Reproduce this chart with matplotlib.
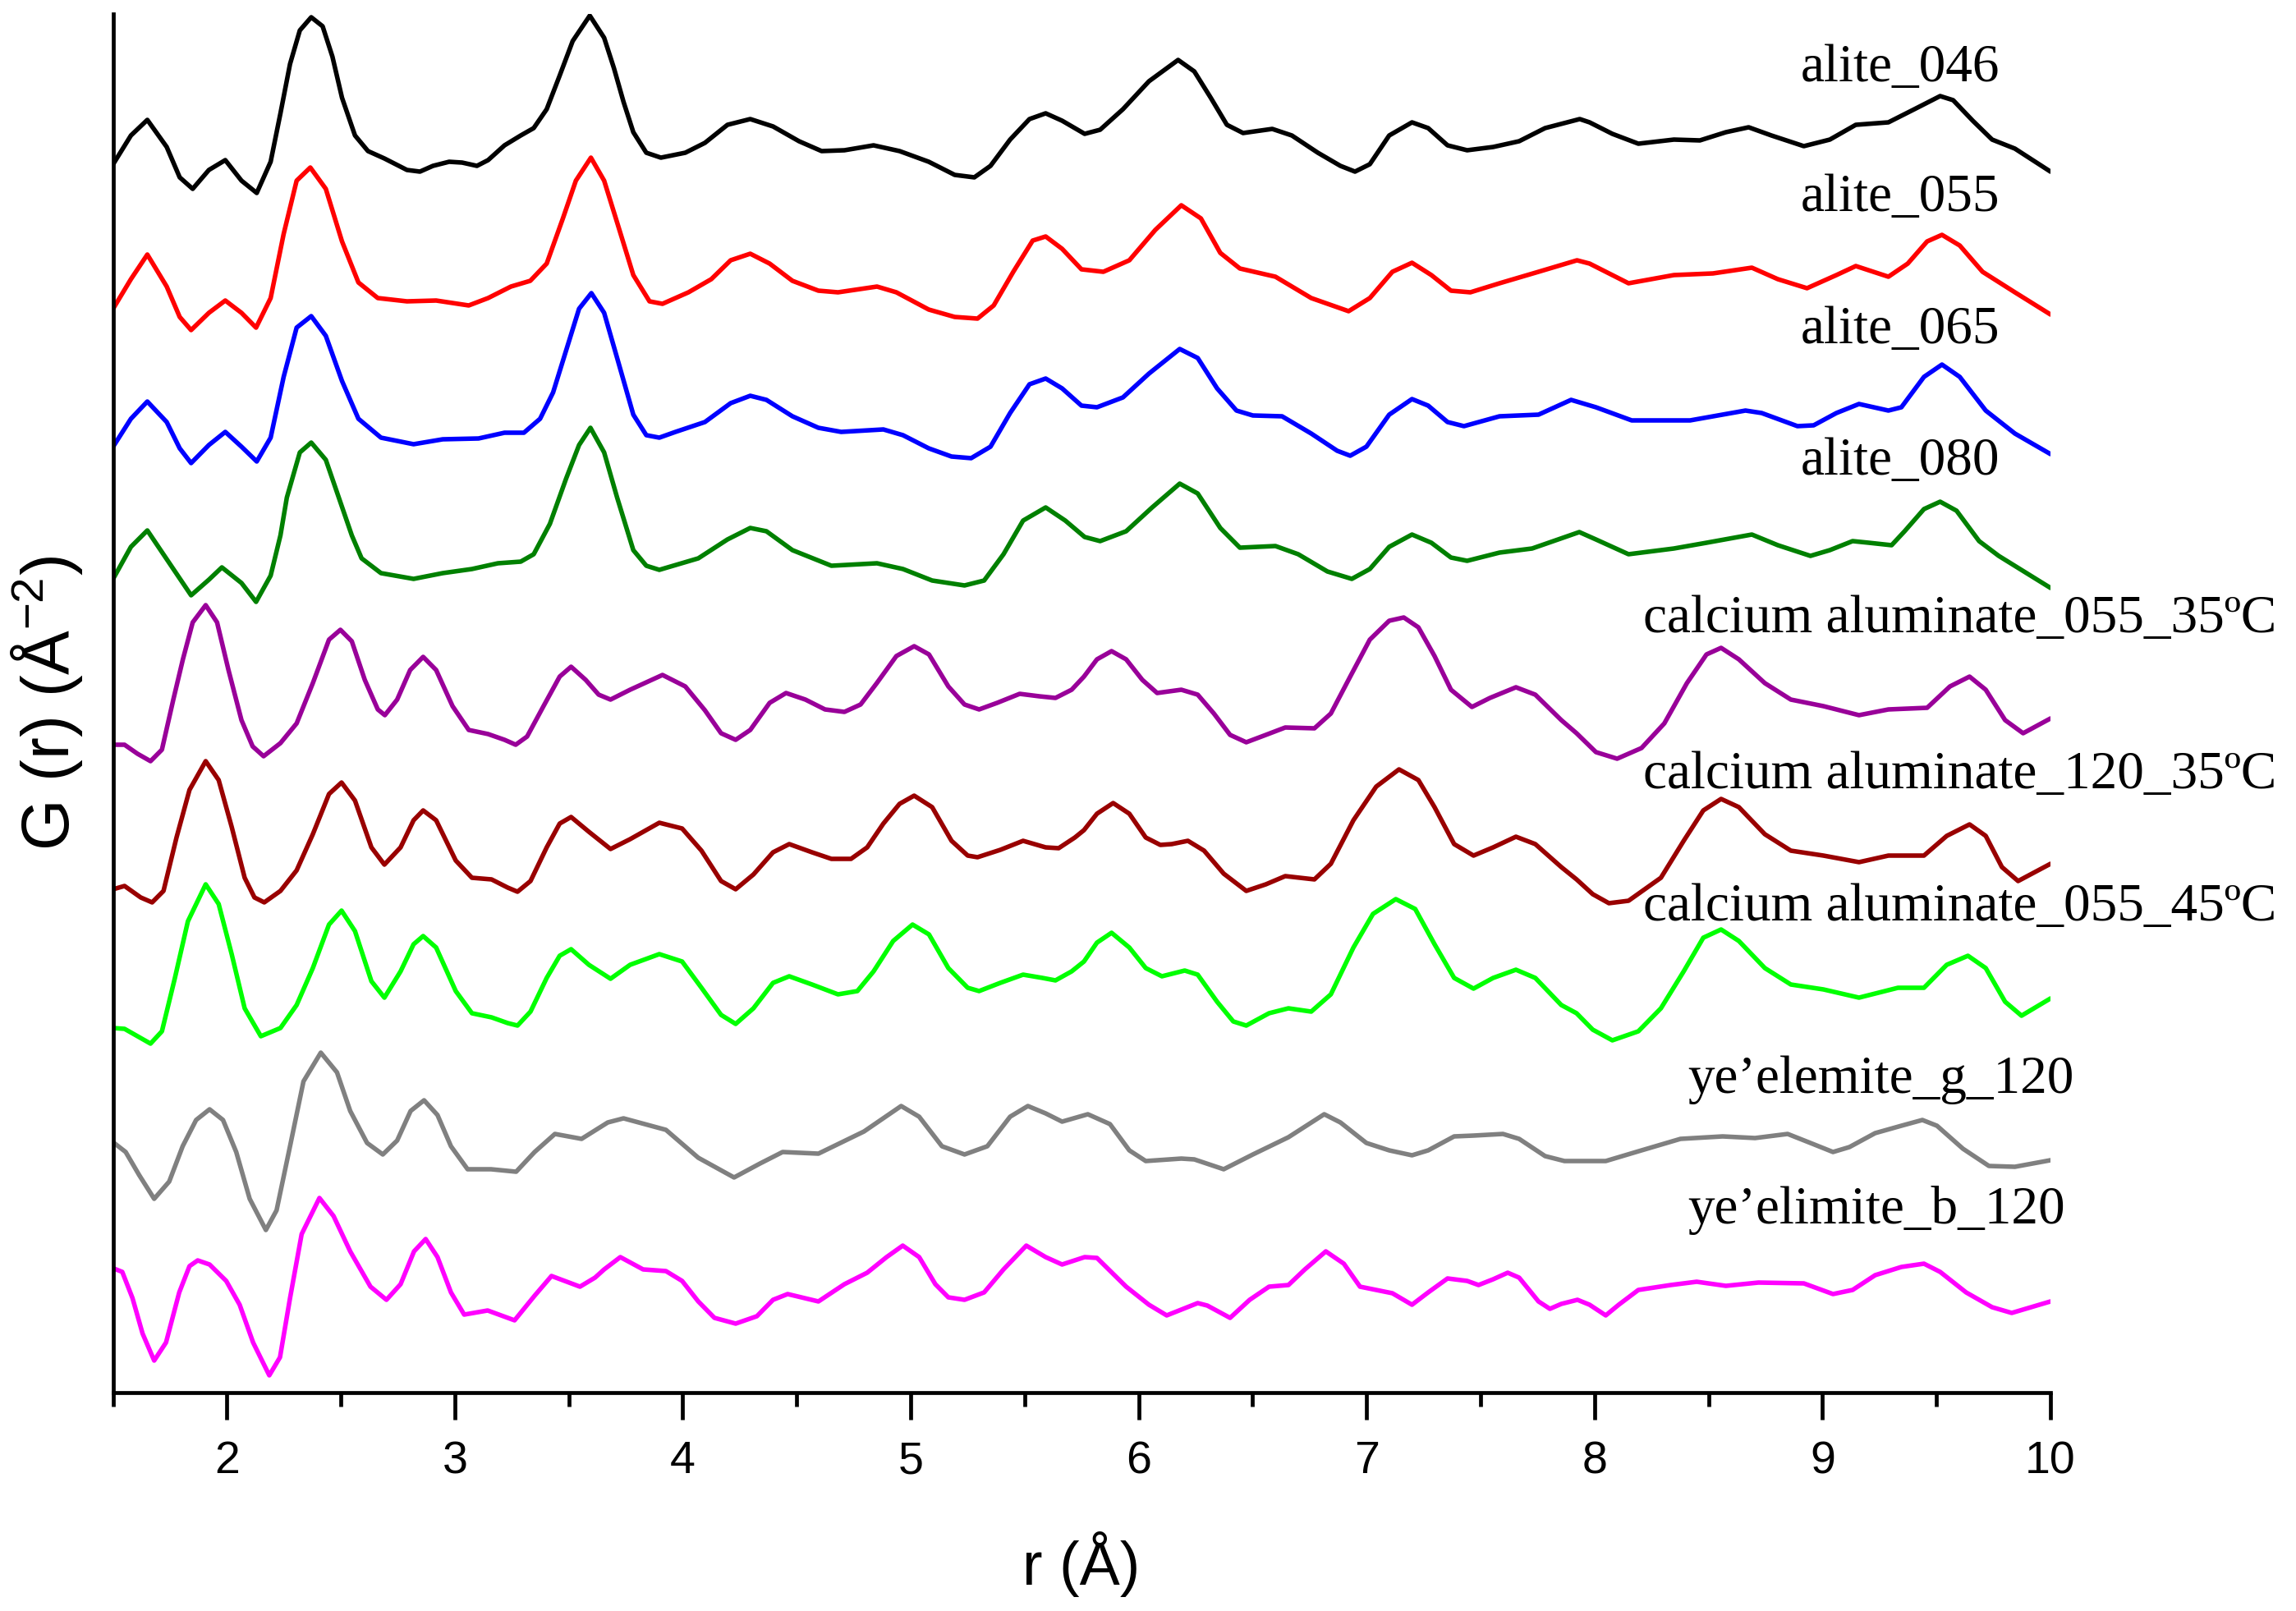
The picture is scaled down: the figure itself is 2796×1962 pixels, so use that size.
import numpy as np
import matplotlib
matplotlib.use('Agg')
import matplotlib.pyplot as plt
from matplotlib.ticker import MultipleLocator

# G(r) curves, (r, G) pairs; stacking offsets already included
alite_046 = [
    (1.501, 14.96), (1.579, 15.31), (1.651, 15.50), (1.736, 15.17), (1.793, 14.80), (1.850, 14.66),
    (1.921, 14.89), (1.993, 15.01), (2.064, 14.76), (2.131, 14.61), (2.192, 14.99), (2.235, 15.58),
    (2.277, 16.18), (2.320, 16.59), (2.370, 16.75), (2.420, 16.64), (2.463, 16.27), (2.505, 15.77),
    (2.562, 15.31), (2.619, 15.12), (2.691, 15.03), (2.790, 14.89), (2.847, 14.87), (2.904, 14.94),
    (2.975, 14.99), (3.032, 14.98), (3.097, 14.94), (3.146, 15.01), (3.218, 15.19), (3.289, 15.31),
    (3.346, 15.40), (3.403, 15.63), (3.460, 16.04), (3.517, 16.46), (3.592, 16.77), (3.655, 16.50),
    (3.698, 16.13), (3.740, 15.72), (3.783, 15.35), (3.840, 15.10), (3.904, 15.04), (4.011, 15.10),
    (4.097, 15.22), (4.196, 15.44), (4.296, 15.51), (4.396, 15.42), (4.510, 15.24), (4.609, 15.12),
    (4.709, 15.13), (4.837, 15.19), (4.951, 15.12), (5.079, 14.99), (5.193, 14.83), (5.279, 14.80),
    (5.350, 14.94), (5.436, 15.26), (5.521, 15.51), (5.592, 15.58), (5.664, 15.49), (5.763, 15.33),
    (5.831, 15.38), (5.931, 15.63), (6.045, 15.97), (6.173, 16.23), (6.244, 16.09), (6.316, 15.77),
    (6.387, 15.44), (6.458, 15.34), (6.586, 15.39), (6.672, 15.31), (6.786, 15.10), (6.885, 14.94),
    (6.949, 14.87), (7.014, 14.96), (7.099, 15.31), (7.199, 15.47), (7.270, 15.40), (7.355, 15.19),
    (7.441, 15.13), (7.555, 15.17), (7.669, 15.24), (7.783, 15.40), (7.935, 15.51), (7.978, 15.47),
    (8.078, 15.33), (8.192, 15.21), (8.348, 15.26), (8.462, 15.25), (8.576, 15.35), (8.676, 15.41),
    (8.776, 15.31), (8.918, 15.18), (9.032, 15.26), (9.146, 15.44), (9.289, 15.47), (9.403, 15.63),
    (9.516, 15.79), (9.573, 15.74), (9.659, 15.49), (9.744, 15.26), (9.844, 15.15), (10.0, 14.87),
]

alite_055 = [
    (1.501, 13.20), (1.579, 13.56), (1.651, 13.86), (1.736, 13.47), (1.793, 13.10), (1.843, 12.94),
    (1.921, 13.15), (1.993, 13.30), (2.064, 13.15), (2.128, 12.97), (2.192, 13.33), (2.249, 14.11),
    (2.306, 14.76), (2.366, 14.92), (2.434, 14.66), (2.505, 14.02), (2.577, 13.52), (2.662, 13.33),
    (2.790, 13.29), (2.918, 13.30), (3.061, 13.24), (3.146, 13.33), (3.246, 13.47), (3.331, 13.54),
    (3.403, 13.75), (3.474, 14.30), (3.531, 14.76), (3.597, 15.04), (3.655, 14.76), (3.712, 14.25),
    (3.783, 13.61), (3.854, 13.29), (3.911, 13.26), (4.025, 13.40), (4.125, 13.56), (4.210, 13.79),
    (4.296, 13.87), (4.381, 13.75), (4.481, 13.54), (4.595, 13.42), (4.681, 13.40), (4.852, 13.47),
    (4.937, 13.40), (5.079, 13.19), (5.193, 13.10), (5.293, 13.08), (5.364, 13.24), (5.450, 13.65),
    (5.535, 14.03), (5.592, 14.08), (5.664, 13.93), (5.749, 13.68), (5.845, 13.65), (5.959, 13.79),
    (6.073, 14.16), (6.187, 14.46), (6.273, 14.30), (6.358, 13.88), (6.444, 13.69), (6.600, 13.59),
    (6.757, 13.33), (6.921, 13.17), (7.014, 13.33), (7.113, 13.65), (7.199, 13.76), (7.284, 13.61),
    (7.370, 13.42), (7.455, 13.40), (7.583, 13.51), (7.754, 13.65), (7.923, 13.79), (7.978, 13.75),
    (8.149, 13.51), (8.348, 13.61), (8.519, 13.63), (8.690, 13.70), (8.804, 13.56), (8.932, 13.45),
    (9.061, 13.61), (9.146, 13.72), (9.289, 13.59), (9.374, 13.75), (9.459, 14.02), (9.524, 14.10),
    (9.602, 13.97), (9.702, 13.65), (9.844, 13.40), (10.0, 13.13),
]

alite_065 = [
    (1.501, 11.52), (1.579, 11.86), (1.651, 12.07), (1.736, 11.82), (1.793, 11.50), (1.843, 11.32),
    (1.921, 11.54), (1.993, 11.70), (2.064, 11.52), (2.131, 11.34), (2.192, 11.63), (2.249, 12.37),
    (2.306, 12.97), (2.370, 13.11), (2.434, 12.87), (2.505, 12.32), (2.577, 11.86), (2.676, 11.63),
    (2.819, 11.55), (2.947, 11.61), (3.104, 11.62), (3.218, 11.69), (3.303, 11.69), (3.374, 11.86),
    (3.431, 12.18), (3.488, 12.69), (3.545, 13.20), (3.599, 13.39), (3.655, 13.15), (3.712, 12.60),
    (3.783, 11.91), (3.840, 11.66), (3.897, 11.63), (3.968, 11.70), (4.097, 11.82), (4.210, 12.05),
    (4.296, 12.14), (4.367, 12.09), (4.481, 11.89), (4.595, 11.75), (4.695, 11.70), (4.880, 11.73),
    (4.966, 11.66), (5.079, 11.50), (5.179, 11.40), (5.265, 11.38), (5.350, 11.52), (5.436, 11.93),
    (5.521, 12.28), (5.592, 12.35), (5.664, 12.23), (5.749, 12.02), (5.817, 12.00), (5.931, 12.12),
    (6.045, 12.41), (6.180, 12.71), (6.259, 12.60), (6.344, 12.23), (6.429, 11.96), (6.501, 11.90),
    (6.629, 11.89), (6.757, 11.68), (6.871, 11.47), (6.928, 11.41), (6.999, 11.52), (7.099, 11.91),
    (7.199, 12.10), (7.270, 12.02), (7.355, 11.82), (7.427, 11.77), (7.583, 11.89), (7.754, 11.91),
    (7.897, 12.09), (8.006, 12.00), (8.163, 11.84), (8.419, 11.84), (8.662, 11.96), (8.733, 11.93),
    (8.890, 11.77), (8.961, 11.78), (9.061, 11.93), (9.160, 12.04), (9.289, 11.96), (9.346, 12.00),
    (9.445, 12.37), (9.524, 12.52), (9.602, 12.37), (9.716, 11.96), (9.844, 11.68), (10.0, 11.43),
]

alite_080 = [
    (1.501, 9.91), (1.579, 10.30), (1.651, 10.50), (1.736, 10.15), (1.843, 9.71), (1.921, 9.90),
    (1.978, 10.05), (2.064, 9.86), (2.128, 9.63), (2.192, 9.95), (2.235, 10.44), (2.263, 10.90),
    (2.320, 11.45), (2.370, 11.57), (2.434, 11.36), (2.491, 10.90), (2.548, 10.44), (2.591, 10.16),
    (2.676, 9.98), (2.819, 9.91), (2.947, 9.98), (3.075, 10.03), (3.189, 10.10), (3.289, 10.12),
    (3.346, 10.21), (3.417, 10.58), (3.488, 11.13), (3.545, 11.54), (3.595, 11.75), (3.655, 11.45),
    (3.712, 10.90), (3.783, 10.26), (3.840, 10.07), (3.897, 10.02), (4.068, 10.16), (4.196, 10.39),
    (4.296, 10.53), (4.367, 10.49), (4.481, 10.26), (4.652, 10.07), (4.852, 10.10), (4.966, 10.03),
    (5.094, 9.89), (5.236, 9.83), (5.322, 9.89), (5.407, 10.21), (5.493, 10.62), (5.592, 10.78),
    (5.678, 10.62), (5.763, 10.42), (5.831, 10.37), (5.945, 10.49), (6.059, 10.78), (6.180, 11.07),
    (6.259, 10.95), (6.358, 10.53), (6.444, 10.29), (6.600, 10.31), (6.700, 10.21), (6.828, 10.00),
    (6.935, 9.91), (7.014, 10.03), (7.099, 10.30), (7.199, 10.45), (7.284, 10.35), (7.370, 10.17),
    (7.441, 10.13), (7.583, 10.23), (7.726, 10.28), (7.840, 10.39), (7.933, 10.48), (8.006, 10.39),
    (8.149, 10.21), (8.348, 10.28), (8.491, 10.35), (8.690, 10.45), (8.804, 10.32), (8.947, 10.19),
    (9.032, 10.26), (9.132, 10.37), (9.203, 10.35), (9.303, 10.32), (9.360, 10.49), (9.445, 10.76),
    (9.516, 10.85), (9.588, 10.74), (9.687, 10.37), (9.773, 10.19), (10.0, 9.80),
]

ca_055_35 = [
    (1.501, 7.89), (1.551, 7.89), (1.608, 7.78), (1.665, 7.69), (1.715, 7.83), (1.765, 8.44),
    (1.807, 8.93), (1.850, 9.38), (1.907, 9.59), (1.957, 9.38), (2.007, 8.80), (2.064, 8.19),
    (2.113, 7.87), (2.161, 7.75), (2.235, 7.91), (2.306, 8.15), (2.377, 8.64), (2.448, 9.17),
    (2.498, 9.29), (2.548, 9.15), (2.605, 8.68), (2.662, 8.32), (2.693, 8.25), (2.747, 8.44),
    (2.804, 8.80), (2.861, 8.96), (2.918, 8.80), (2.990, 8.36), (3.061, 8.07), (3.146, 8.02),
    (3.218, 7.95), (3.267, 7.89), (3.317, 7.99), (3.389, 8.36), (3.460, 8.72), (3.510, 8.84),
    (3.574, 8.68), (3.631, 8.50), (3.683, 8.44), (3.769, 8.56), (3.911, 8.74), (4.011, 8.60),
    (4.097, 8.31), (4.168, 8.03), (4.232, 7.95), (4.296, 8.07), (4.381, 8.40), (4.453, 8.52),
    (4.538, 8.44), (4.624, 8.32), (4.709, 8.29), (4.780, 8.38), (4.851, 8.64), (4.937, 8.97),
    (5.015, 9.09), (5.080, 8.99), (5.165, 8.60), (5.236, 8.38), (5.300, 8.32), (5.379, 8.40),
    (5.478, 8.51), (5.564, 8.48), (5.635, 8.46), (5.706, 8.56), (5.760, 8.72), (5.817, 8.93),
    (5.881, 9.03), (5.945, 8.93), (6.016, 8.68), (6.081, 8.52), (6.187, 8.56), (6.259, 8.50),
    (6.330, 8.27), (6.401, 8.01), (6.472, 7.92), (6.558, 8.01), (6.643, 8.10), (6.771, 8.09),
    (6.843, 8.27), (6.928, 8.72), (7.014, 9.17), (7.099, 9.40), (7.163, 9.44), (7.227, 9.32),
    (7.298, 8.97), (7.370, 8.56), (7.462, 8.35), (7.541, 8.46), (7.655, 8.59), (7.740, 8.50),
    (7.854, 8.19), (7.921, 8.03), (8.006, 7.80), (8.099, 7.72), (8.206, 7.85), (8.306, 8.15),
    (8.405, 8.64), (8.491, 8.99), (8.555, 9.07), (8.633, 8.93), (8.747, 8.64), (8.861, 8.44),
    (9.004, 8.36), (9.160, 8.25), (9.289, 8.32), (9.459, 8.34), (9.559, 8.60), (9.645, 8.72),
    (9.716, 8.56), (9.801, 8.19), (9.880, 8.03), (10.0, 8.21),
]

ca_120_35 = [
    (1.501, 6.13), (1.551, 6.17), (1.622, 6.03), (1.672, 5.97), (1.722, 6.11), (1.779, 6.76),
    (1.836, 7.34), (1.907, 7.69), (1.964, 7.46), (2.021, 6.89), (2.078, 6.27), (2.121, 6.03),
    (2.164, 5.97), (2.235, 6.11), (2.306, 6.36), (2.377, 6.80), (2.448, 7.29), (2.503, 7.43),
    (2.562, 7.21), (2.634, 6.64), (2.691, 6.43), (2.762, 6.64), (2.819, 6.97), (2.861, 7.09),
    (2.918, 6.97), (3.004, 6.48), (3.075, 6.27), (3.161, 6.25), (3.232, 6.15), (3.275, 6.10),
    (3.332, 6.23), (3.403, 6.64), (3.460, 6.93), (3.510, 7.01), (3.588, 6.83), (3.683, 6.62),
    (3.769, 6.74), (3.897, 6.94), (3.997, 6.87), (4.082, 6.60), (4.168, 6.23), (4.232, 6.13),
    (4.310, 6.31), (4.396, 6.58), (4.467, 6.68), (4.567, 6.58), (4.652, 6.50), (4.738, 6.50),
    (4.809, 6.64), (4.880, 6.93), (4.951, 7.17), (5.015, 7.27), (5.094, 7.13), (5.179, 6.72),
    (5.250, 6.54), (5.293, 6.52), (5.393, 6.61), (5.493, 6.72), (5.592, 6.64), (5.649, 6.63),
    (5.720, 6.76), (5.760, 6.85), (5.817, 7.05), (5.888, 7.18), (5.959, 7.05), (6.031, 6.76),
    (6.095, 6.67), (6.145, 6.68), (6.216, 6.72), (6.287, 6.60), (6.373, 6.32), (6.472, 6.11),
    (6.558, 6.19), (6.643, 6.29), (6.771, 6.25), (6.843, 6.44), (6.942, 6.97), (7.042, 7.38),
    (7.142, 7.59), (7.227, 7.46), (7.298, 7.13), (7.384, 6.68), (7.469, 6.54), (7.555, 6.64),
    (7.655, 6.77), (7.740, 6.68), (7.854, 6.40), (7.921, 6.25), (7.992, 6.07), (8.063, 5.96),
    (8.149, 5.99), (8.291, 6.27), (8.391, 6.72), (8.477, 7.09), (8.555, 7.23), (8.633, 7.13),
    (8.747, 6.80), (8.861, 6.60), (9.004, 6.54), (9.160, 6.46), (9.289, 6.54), (9.445, 6.54),
    (9.545, 6.78), (9.645, 6.92), (9.716, 6.78), (9.787, 6.40), (9.858, 6.23), (10.0, 6.44),
]

ca_055_45 = [
    (1.501, 4.44), (1.551, 4.43), (1.608, 4.34), (1.665, 4.25), (1.715, 4.40), (1.772, 5.05),
    (1.829, 5.74), (1.907, 6.19), (1.964, 5.95), (2.021, 5.34), (2.078, 4.68), (2.149, 4.34),
    (2.235, 4.44), (2.306, 4.72), (2.377, 5.17), (2.448, 5.70), (2.503, 5.87), (2.562, 5.62),
    (2.634, 5.01), (2.691, 4.81), (2.762, 5.13), (2.819, 5.46), (2.861, 5.56), (2.918, 5.42),
    (3.004, 4.89), (3.075, 4.62), (3.161, 4.57), (3.232, 4.50), (3.275, 4.47), (3.332, 4.64),
    (3.403, 5.05), (3.460, 5.32), (3.510, 5.40), (3.588, 5.21), (3.683, 5.04), (3.769, 5.21),
    (3.897, 5.34), (3.997, 5.25), (4.082, 4.93), (4.168, 4.60), (4.232, 4.49), (4.310, 4.68),
    (4.396, 4.99), (4.467, 5.07), (4.567, 4.97), (4.681, 4.85), (4.766, 4.89), (4.837, 5.13),
    (4.923, 5.50), (5.008, 5.70), (5.080, 5.58), (5.165, 5.17), (5.250, 4.93), (5.300, 4.89),
    (5.393, 4.99), (5.493, 5.09), (5.578, 5.05), (5.635, 5.02), (5.706, 5.13), (5.760, 5.25),
    (5.817, 5.48), (5.881, 5.60), (5.959, 5.42), (6.031, 5.17), (6.102, 5.07), (6.202, 5.14),
    (6.259, 5.09), (6.344, 4.76), (6.415, 4.52), (6.472, 4.47), (6.572, 4.62), (6.657, 4.68),
    (6.757, 4.64), (6.843, 4.85), (6.942, 5.42), (7.028, 5.83), (7.128, 6.01), (7.213, 5.89),
    (7.298, 5.46), (7.384, 5.05), (7.469, 4.92), (7.555, 5.05), (7.655, 5.15), (7.740, 5.05),
    (7.854, 4.72), (7.921, 4.62), (7.992, 4.42), (8.078, 4.29), (8.192, 4.40), (8.291, 4.68),
    (8.391, 5.13), (8.477, 5.54), (8.555, 5.64), (8.633, 5.50), (8.747, 5.17), (8.861, 4.97),
    (9.004, 4.91), (9.160, 4.81), (9.331, 4.93), (9.445, 4.93), (9.545, 5.21), (9.638, 5.32),
    (9.716, 5.17), (9.801, 4.76), (9.873, 4.59), (10.0, 4.80),
]

yeelimite_g_120 = [
    (1.505, 3.04), (1.556, 2.93), (1.615, 2.65), (1.681, 2.36), (1.747, 2.57), (1.806, 3.00),
    (1.865, 3.32), (1.924, 3.45), (1.983, 3.32), (2.041, 2.93), (2.100, 2.36), (2.171, 1.98),
    (2.218, 2.22), (2.277, 3.00), (2.336, 3.79), (2.412, 4.14), (2.483, 3.90), (2.541, 3.43),
    (2.615, 3.04), (2.684, 2.90), (2.747, 3.07), (2.806, 3.43), (2.865, 3.56), (2.924, 3.38),
    (2.983, 3.00), (3.056, 2.72), (3.159, 2.72), (3.269, 2.69), (3.350, 2.93), (3.439, 3.15),
    (3.556, 3.09), (3.671, 3.29), (3.740, 3.34), (3.926, 3.20), (4.068, 2.86), (4.225, 2.62),
    (4.339, 2.79), (4.438, 2.93), (4.595, 2.91), (4.795, 3.18), (4.958, 3.49), (5.037, 3.36),
    (5.137, 3.00), (5.236, 2.90), (5.336, 3.00), (5.436, 3.36), (5.514, 3.49), (5.592, 3.40),
    (5.664, 3.30), (5.777, 3.39), (5.874, 3.27), (5.959, 2.95), (6.031, 2.82), (6.187, 2.85),
    (6.244, 2.84), (6.373, 2.72), (6.501, 2.90), (6.657, 3.11), (6.814, 3.39), (6.885, 3.29),
    (6.999, 3.04), (7.099, 2.95), (7.199, 2.89), (7.270, 2.95), (7.384, 3.12), (7.469, 3.13),
    (7.598, 3.15), (7.669, 3.09), (7.783, 2.88), (7.868, 2.82), (8.049, 2.82), (8.206, 2.95),
    (8.377, 3.09), (8.562, 3.12), (8.704, 3.10), (8.847, 3.15), (8.947, 3.04), (9.046, 2.93),
    (9.118, 2.99), (9.231, 3.16), (9.346, 3.25), (9.438, 3.32), (9.502, 3.25), (9.616, 2.97),
    (9.730, 2.76), (9.844, 2.75), (10.0, 2.83),
]

yeelimite_b_120 = [
    (1.505, 1.51), (1.541, 1.47), (1.586, 1.15), (1.630, 0.72), (1.681, 0.39), (1.733, 0.61),
    (1.791, 1.22), (1.836, 1.54), (1.872, 1.61), (1.924, 1.56), (1.997, 1.36), (2.056, 1.07),
    (2.115, 0.61), (2.186, 0.21), (2.233, 0.43), (2.277, 1.15), (2.328, 1.93), (2.406, 2.37),
    (2.468, 2.15), (2.541, 1.72), (2.630, 1.29), (2.700, 1.13), (2.762, 1.32), (2.821, 1.72),
    (2.872, 1.87), (2.924, 1.65), (2.983, 1.22), (3.041, 0.95), (3.144, 1.00), (3.262, 0.88),
    (3.350, 1.18), (3.424, 1.42), (3.549, 1.29), (3.615, 1.40), (3.655, 1.50), (3.726, 1.65),
    (3.826, 1.50), (3.926, 1.48), (3.997, 1.36), (4.068, 1.11), (4.139, 0.91), (4.232, 0.84),
    (4.325, 0.93), (4.396, 1.13), (4.460, 1.20), (4.595, 1.11), (4.709, 1.32), (4.809, 1.46),
    (4.894, 1.65), (4.965, 1.79), (5.037, 1.65), (5.108, 1.32), (5.165, 1.16), (5.236, 1.13),
    (5.322, 1.22), (5.407, 1.50), (5.507, 1.79), (5.592, 1.65), (5.664, 1.56), (5.763, 1.65),
    (5.817, 1.64), (5.945, 1.29), (6.045, 1.07), (6.123, 0.94), (6.259, 1.09), (6.301, 1.06),
    (6.401, 0.91), (6.487, 1.13), (6.572, 1.29), (6.657, 1.31), (6.729, 1.50), (6.821, 1.72),
    (6.900, 1.57), (6.971, 1.29), (7.042, 1.25), (7.113, 1.21), (7.199, 1.07), (7.270, 1.22),
    (7.355, 1.39), (7.441, 1.36), (7.491, 1.31), (7.555, 1.38), (7.619, 1.46), (7.669, 1.40),
    (7.754, 1.11), (7.804, 1.02), (7.854, 1.08), (7.925, 1.13), (7.978, 1.07), (8.049, 0.94),
    (8.106, 1.07), (8.192, 1.25), (8.334, 1.31), (8.448, 1.35), (8.576, 1.30), (8.719, 1.34),
    (8.918, 1.33), (9.046, 1.20), (9.132, 1.25), (9.231, 1.43), (9.346, 1.53), (9.445, 1.57),
    (9.516, 1.47), (9.630, 1.22), (9.744, 1.04), (9.830, 0.97), (9.915, 1.04), (10.0, 1.11),
]

series = [alite_046, alite_055, alite_065, alite_080, ca_055_35, ca_120_35, ca_055_45,
          yeelimite_g_120, yeelimite_b_120]
names = ['alite_046', 'alite_055', 'alite_065', 'alite_080',
         'calcium aluminate_055_35ºC', 'calcium aluminate_120_35ºC', 'calcium aluminate_055_45ºC',
         'ye\u2019elemite_g_120', 'ye\u2019elimite_b_120']
colors = ['#000000', '#ff0000', '#0000ff', '#008000', '#990099', '#990000', '#00ff00',
          '#808080', '#ff00ff']
x_ticks = [2, 3, 4, 5, 6, 7, 8, 9, 10]

# label anchors (left edge, baseline) in data units
label_pos = [(8.904, 15.97), (8.904, 14.39), (8.904, 12.78), (8.904, 11.18),
             (8.212, 9.26), (8.212, 7.36), (8.212, 5.75),
             (8.410, 3.65), (8.410, 2.06)]

plt.rcParams['font.family'] = ['Liberation Sans', 'DejaVu Sans']
plt.rcParams['mathtext.fontset'] = 'custom'
plt.rcParams['mathtext.rm'] = 'Liberation Sans'
plt.rcParams['mathtext.it'] = 'Liberation Sans:italic'

W, H = 2796, 1962
fig = plt.figure(figsize=(W / 100, H / 100), dpi=100)
ax = fig.add_axes([137.5 / W, 1 - 1696 / H, (2497 - 137.5) / W, (1696 - 17) / H])

for data, col in zip(series, colors):
    arr = np.array(data)
    ax.plot(arr[:, 0], arr[:, 1], color=col, lw=4.0, solid_joinstyle='round',
            solid_capstyle='round')

for name, (lx, ly) in zip(names, label_pos):
    ax.text(lx, ly, name, ha='left', va='baseline', fontsize=47,
            family=['Liberation Serif', 'DejaVu Serif'], clip_on=False)

ax.set_xlim(1.5, 10)
ax.set_ylim(0, 16.79)
ax.set_xticks(x_ticks)
ax.set_xticklabels([str(t) for t in x_ticks])
ax.xaxis.set_minor_locator(MultipleLocator(0.5))
ax.set_yticks([])

for side in ['top', 'right']:
    ax.spines[side].set_visible(False)
for side in ['left', 'bottom']:
    ax.spines[side].set_linewidth(3.4)

ax.tick_params(axis='x', which='major', direction='out', length=24, width=3.4,
               labelsize=40, pad=18)
ax.tick_params(axis='x', which='minor', direction='out', length=12, width=3.4)

fig.text(1317 / W, 1 - 1905 / H, 'r (Å)', ha='center', va='center', fontsize=53)
fig.text(57 / W, 1 - 856 / H, 'G (r) (Å$^{-2}$)', ha='center', va='center',
         rotation=90, fontsize=58)

fig.savefig('out.png', dpi=100)
